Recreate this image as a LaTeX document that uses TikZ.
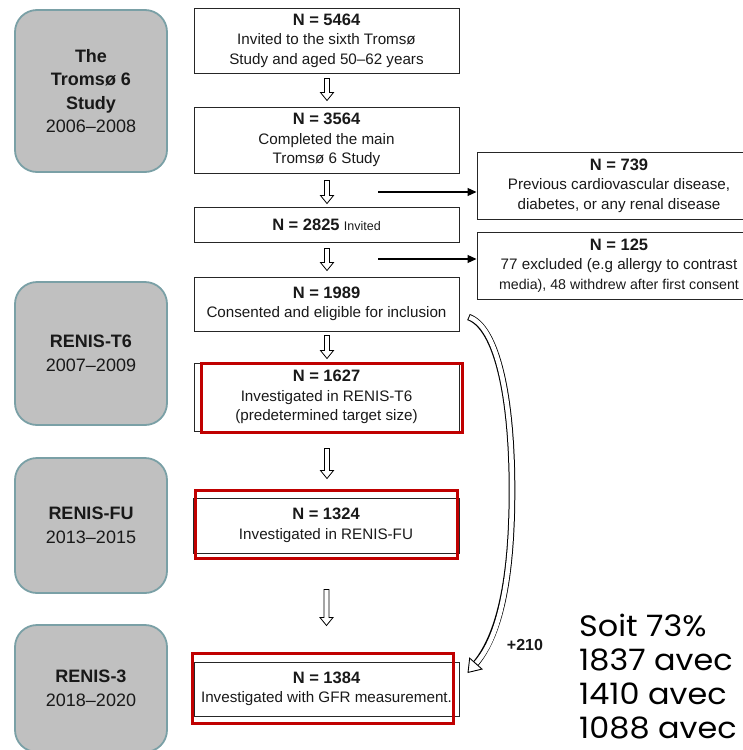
\documentclass[tikz,border=0pt]{standalone}
\usepackage{fontspec}
\setmainfont{Liberation Sans}
\newfontfamily\gothic[FakeStretch=1.08]{Poppins}
\usetikzlibrary{calc,arrows.meta}
\definecolor{greyfill}{RGB}{192,192,192}
\definecolor{greyedge}{RGB}{122,160,166}
\definecolor{hired}{RGB}{192,0,0}
\definecolor{ink}{RGB}{25,25,25}
\newcommand\Nhead[1]{{\fontsize{16.5}{19.5}\selectfont\bfseries #1}}
\tikzset{
  stage/.style={draw=greyedge, line width=1.8pt, fill=greyfill, rounded corners=22pt,
    minimum width=152pt, align=center, font=\fontsize{18}{23.5}\selectfont, text=ink, inner sep=0pt},
  flowbox/.style={draw=black!85, line width=1pt, minimum width=265pt, align=center,
    font=\fontsize{15.2}{19.5}\selectfont, text=ink, inner sep=0pt},
  sidebox/.style={flowbox, minimum width=284pt},
  highlight/.style={draw=hired, line width=3pt, inner sep=0pt},
  pics/hollowdown/.style={code={
    \draw[line width=0.8pt, fill=white] (-2.5,0) -- (2.5,0) -- (2.5,-#1+8) -- (6.5,-#1+8)
      -- (0,-#1) -- (-6.5,-#1+8) -- (-2.5,-#1+8) -- cycle;}},
  sidearrow/.style={line width=1.2pt, -{Triangle[length=9pt,width=8pt]}},
  note/.style={anchor=base west, inner sep=0pt, font=\gothic\fontsize{29.5}{30}\selectfont},
}
\begin{document}
\begin{tikzpicture}[x=1pt,y=1pt]
\useasboundingbox (0,0) rectangle (743,-750);
\clip (0,0) rectangle (743,-750);

% stage boxes
\node[stage, minimum height=162pt] (g1) at (91,-91) {\textbf{The}\\\textbf{Tromsø 6}\\\textbf{Study}\\2006–2008};
\node[stage, minimum height=143pt] (g2) at (91,-353.5) {\textbf{RENIS-T6}\\2007–2009};
\node[stage, minimum height=135pt] (g3) at (91,-525.5) {\textbf{RENIS-FU}\\2013–2015};
\node[stage, minimum height=127pt] (g4) at (91,-688.5) {\textbf{RENIS-3}\\2018–2020};

% main flow
\node[flowbox, minimum height=65pt] (b1) at (326.5,-40.5) {\Nhead{N = 5464}\\Invited to the sixth Tromsø\\Study and aged 50–62 years};
\node[flowbox, minimum height=66pt] (b2) at (326.5,-140) {\Nhead{N = 3564}\\Completed the main\\Tromsø 6 Study};
\node[flowbox, minimum height=35pt] (b3) at (326.5,-224.5) {\Nhead{N = 2825} {\fontsize{12.5}{15}\selectfont Invited}};
\node[flowbox, minimum height=54pt] (b4) at (326.5,-304) {\Nhead{N = 1989}\\Consented and eligible for inclusion};
\node[flowbox, minimum height=68pt] (b5) at (326.5,-397) {\Nhead{N = 1627}\\Investigated in RENIS-T6\\(predetermined target size)};
\node[flowbox, minimum height=55pt, minimum width=266pt] (b6) at (326,-525.5) {\Nhead{N = 1324}\\Investigated in RENIS-FU};
\node[flowbox, minimum height=54pt] (b7) at (326.5,-689) {\Nhead{N = 1384}\\Investigated with GFR measurement.};

% side boxes
\node[sidebox, minimum height=67pt] (e1) at (619,-185.5) {\Nhead{N = 739}\\Previous cardiovascular disease,\\diabetes, or any renal disease};
\node[sidebox, minimum height=67pt] (e2) at (619,-265.5) {\Nhead{N = 125}\\77 excluded (e.g allergy to contrast\\{\fontsize{14.2}{19.5}\selectfont media), 48 withdrew after first consent}};

% red highlights
\node[highlight, minimum width=261pt, minimum height=69pt] (r5) at (331.5,-397.5) {};
\node[highlight, minimum width=262pt, minimum height=68pt] (r6) at (326,-524) {};
\node[highlight, minimum width=261pt, minimum height=70pt] (r7) at (322.5,-688) {};

% hollow down arrows
\pic at ($(b1.south)+(0.5,-5)$) {hollowdown=22};
\pic at ($(b2.south)+(0.5,-7)$) {hollowdown=23};
\pic at ($(b3.south)+(0.5,-6)$) {hollowdown=22};
\pic at ($(b4.south)+(0.5,-4)$) {hollowdown=23};
\pic at ($(b5.south)+(0.5,-17)$) {hollowdown=30};
\pic at ($(b6.south)+(0.5,-36)$) {hollowdown=36};

% exclusion arrows
\coordinate (h1) at (378,-192);
\coordinate (h2) at (378,-259);
\draw[sidearrow] (h1) -- (h1 -| e1.west);
\draw[sidearrow] (h2) -- (h2 -| e2.west);

% curved hollow arrow
\coordinate (cs) at ($(b4.east)+(9,-13)$);
\coordinate (cm) at (512,-490);
\coordinate (ce) at ($(b7.east)+(8,16)$);
\draw[line width=6.6pt, shorten >=9pt] (cs) .. controls +(28,-10) and +(0,95) .. (cm) .. controls +(0,-90) and +(32,36) .. (ce);
\draw[white, line width=4.6pt, shorten <=1pt, -{Triangle[length=13pt, width=18pt, line width=0.9pt, color=black, fill=white]}] (cs) .. controls +(28,-10) and +(0,95) .. (cm) .. controls +(0,-90) and +(32,36) .. (ce);
\node[font=\fontsize{16}{18}\selectfont\bfseries, text=ink] (plus) at (525,-645) {+210};

% notes
\node[note] (s1) at (579,-636) {Soit 73\%};
\node[note] (s2) at (579,-670) {1837 avec};
\node[note] (s3) at (579,-704) {1410 avec};
\node[note] (s4) at (579,-738) {1088 avec};
\end{tikzpicture}
\end{document}
